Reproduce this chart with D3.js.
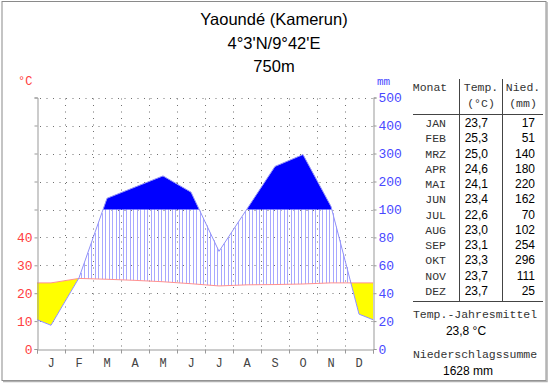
<!DOCTYPE html>
<html>
<head>
<meta charset="utf-8">
<script src="https://cdn.jsdelivr.net/npm/d3@7"></script>
<style>
body { margin: 0; background: #fff; }
</style>
</head>
<body>
<div id="chart"></div>
<script>
// data
var months = ["J", "F", "M", "A", "M", "J", "J", "A", "S", "O", "N", "D"];
var monthNames = ["JAN", "FEB", "MRZ", "APR", "MAI", "JUN", "JUL", "AUG", "SEP", "OKT", "NOV", "DEZ"];
var temps = [23.7, 25.3, 25.0, 24.6, 24.1, 23.4, 22.6, 23.0, 23.1, 23.3, 23.7, 23.7];
var precip = [17, 51, 140, 180, 220, 162, 70, 102, 254, 296, 111, 25];
var tempTicks = [0, 10, 20, 30, 40];
var precipTicks = [0, 20, 40, 60, 80, 100, 200, 300, 400, 500];
var titleLines = ["Yaoundé (Kamerun)", "4°3'N/9°42'E", "750m"];

function init() {

    var w = 550;
    var h = 384;
    var mono = "'Liberation Mono', 'Courier New', monospace";
    var sans = "'Liberation Sans', Arial, sans-serif";

    var svg = d3.select("#chart")
        .append("svg")
        .attr("width", w)
        .attr("height", h);

    // scales
    var x = d3.scaleLinear().domain([0, 12]).range([37, 373]);
    var yT = d3.scaleLinear().domain([0, 50]).range([349, 209.5]);
    var yP = d3.scaleLinear().domain([0, 100, 500]).range([349, 209.5, 97.5]);
    var y100 = yP(100);

    // frame
    svg.append("rect")
        .attr("x", 2).attr("y", 1.5)
        .attr("width", 544).attr("height", 379)
        .attr("fill", "none").attr("stroke", "#8a8a8a");
    svg.append("path")
        .attr("d", "M547,2V381.5H3")
        .attr("fill", "none").attr("stroke", "#b0b0b0").attr("stroke-width", 1.5);

    // title
    svg.selectAll("text.title")
        .data(titleLines)
        .enter()
        .append("text")
        .attr("class", "title")
        .attr("x", 274)
        .attr("y", function (d, i) { return 25 + i * 23.5; })
        .attr("text-anchor", "middle")
        .attr("font-family", sans)
        .attr("font-size", "16.5px")
        .attr("fill", "#000")
        .text(function (d) { return d; });

    // grid
    var grid = svg.append("g")
        .attr("stroke", "#707070")
        .attr("stroke-dasharray", "1,5.5");
    grid.selectAll("line.h")
        .data(precipTicks.slice(1))
        .enter()
        .append("line")
        .attr("x1", x(0) + 3).attr("x2", x(12))
        .attr("y1", function (d) { return Math.round(yP(d)) + 0.5; })
        .attr("y2", function (d) { return Math.round(yP(d)) + 0.5; });
    grid.selectAll("line.v")
        .data(d3.range(1, 12))
        .enter()
        .append("line")
        .attr("x1", function (d) { return Math.round(x(d)) + 0.5; })
        .attr("x2", function (d) { return Math.round(x(d)) + 0.5; })
        .attr("y1", yP(500) + 1).attr("y2", yP(0));

    // curves, wrapped at both ends with the mean of december and january
    var xs = [0].concat(d3.range(12).map(function (i) { return i + 0.5; }), [12]);
    var tEdge = (temps[11] + temps[0]) / 2;
    var pEdge = (precip[11] + precip[0]) / 2;
    var tVals = [tEdge].concat(temps, [tEdge]);
    var pVals = [pEdge].concat(precip, [pEdge]);

    var pts = xs.map(function (d, i) {
        return { x: x(d), t: yT(tVals[i]), p: yP(pVals[i]) };
    });

    var fT = d3.scaleLinear().domain(pts.map(function (d) { return d.x; })).range(pts.map(function (d) { return d.t; }));
    var fP = d3.scaleLinear().domain(pts.map(function (d) { return d.x; })).range(pts.map(function (d) { return d.p; }));

    var defs = svg.append("defs");
    var abovePrecip = pts.map(function (d) { return [d.x, d.p]; });
    abovePrecip.push([x(12), 0], [x(0), 0]);
    defs.append("clipPath").attr("id", "abovePrecip")
        .append("path")
        .attr("d", "M" + abovePrecip.join("L") + "Z");

    // humid season: hatching between temperature and precipitation (capped at 100 mm)
    var hatchX = d3.range(x(0) + 1.75, x(12), 3.5);
    svg.append("g")
        .selectAll("line")
        .data(hatchX.filter(function (hx) { return fP(hx) < fT(hx); }))
        .enter()
        .append("line")
        .attr("x1", function (d) { return Math.round(d) + 0.5; })
        .attr("x2", function (d) { return Math.round(d) + 0.5; })
        .attr("y1", function (d) { return Math.max(fP(d), y100); })
        .attr("y2", function (d) { return fT(d); })
        .attr("stroke", "#a8a8ff")
        .attr("stroke-width", 1);

    // perhumid: solid blue above 100 mm, split into runs where precipitation exceeds 100 mm
    var runs = [];
    var cur = null;
    pts.forEach(function (d, i) {
        var prev = pts[i - 1];
        if (prev && (prev.p < y100) !== (d.p < y100)) {
            var k = (y100 - prev.p) / (d.p - prev.p);
            var cross = { x: prev.x + k * (d.x - prev.x), p: y100 };
            if (cur) { cur.push(cross); runs.push(cur); cur = null; }
            else { cur = [cross]; }
        }
        if (d.p < y100) {
            if (!cur) cur = [];
            cur.push(d);
        }
    });
    if (cur) runs.push(cur);

    var blueArea = d3.area()
        .x(function (d) { return d.x; })
        .y0(y100)
        .y1(function (d) { return d.p; });
    svg.append("g")
        .selectAll("path")
        .data(runs)
        .enter()
        .append("path")
        .attr("d", blueArea)
        .attr("fill", "#0000ff");

    // arid season: yellow where temperature lies above precipitation
    var yellowArea = d3.area()
        .x(function (d) { return d.x; })
        .y0(function (d) { return d.p; })
        .y1(function (d) { return d.t; });
    svg.append("path")
        .datum(pts)
        .attr("d", yellowArea)
        .attr("clip-path", "url(#abovePrecip)")
        .attr("fill", "#ffff00");

    var tLine = d3.line()
        .x(function (d) { return d.x; })
        .y(function (d) { return d.t; });
    var pLine = d3.line()
        .x(function (d) { return d.x; })
        .y(function (d) { return d.p; });

    svg.append("path")
        .datum(pts)
        .attr("d", tLine)
        .attr("fill", "none")
        .attr("stroke", "#ff9090");
    svg.append("path")
        .datum(pts)
        .attr("d", pLine)
        .attr("fill", "none")
        .attr("stroke", "#9090ff");

    // axes
    svg.append("g")
        .attr("transform", "translate(37.5,0)")
        .call(d3.axisLeft(yP).tickValues(precipTicks).tickSize(3).tickFormat(""));
    var leftLabels = svg.append("g")
        .attr("transform", "translate(37.5,0)")
        .call(d3.axisLeft(yT).tickValues(tempTicks).tickSize(0).tickPadding(5));
    leftLabels.select(".domain").remove();
    leftLabels.selectAll("text")
        .attr("font-family", mono).attr("font-size", "13px").attr("fill", "#ff4040");

    var rightAxis = svg.append("g")
        .attr("transform", "translate(373.5,0)")
        .call(d3.axisRight(yP).tickValues(precipTicks).tickSize(3).tickPadding(2));
    rightAxis.selectAll("text")
        .attr("font-family", mono).attr("font-size", "13px").attr("fill", "#4848ff");

    svg.append("g")
        .attr("transform", "translate(0,349.5)")
        .call(d3.axisBottom(x).tickValues(d3.range(0, 13)).tickSize(4).tickFormat(""));

    svg.selectAll(".domain, .tick line")
        .attr("stroke", "#999");

    svg.selectAll("text.month")
        .data(months)
        .enter()
        .append("text")
        .attr("class", "month")
        .attr("x", function (d, i) { return x(i + 0.5); })
        .attr("y", 367)
        .attr("text-anchor", "middle")
        .attr("font-family", mono)
        .attr("font-size", "12px")
        .attr("fill", "#444")
        .text(function (d) { return d; });

    // units
    svg.append("text")
        .attr("x", 18).attr("y", 85)
        .attr("font-family", mono).attr("font-size", "12px")
        .attr("fill", "#ff4040")
        .text("°C");
    svg.append("text")
        .attr("x", 377).attr("y", 85)
        .attr("font-family", mono).attr("font-size", "11px")
        .attr("fill", "#4848ff")
        .text("mm");

    // table
    var tbl = svg.append("g");
    tbl.append("line").attr("x1", 459.5).attr("x2", 459.5).attr("y1", 79).attr("y2", 301).attr("stroke", "#444");
    tbl.append("line").attr("x1", 502.5).attr("x2", 502.5).attr("y1", 79).attr("y2", 301).attr("stroke", "#444");
    tbl.append("line").attr("x1", 413).attr("x2", 543).attr("y1", 114.5).attr("y2", 114.5).attr("stroke", "#444");
    tbl.append("line").attr("x1", 413).attr("x2", 543).attr("y1", 301.5).attr("y2", 301.5).attr("stroke", "#444");

    var head = [
        { t: "Monat", x: 430, y: 91 },
        { t: "Temp.", x: 481, y: 91 },
        { t: "Nied.", x: 523, y: 91 },
        { t: "(°C)", x: 481, y: 107 },
        { t: "(mm)", x: 523, y: 107 }
    ];
    tbl.selectAll("text.head")
        .data(head)
        .enter()
        .append("text")
        .attr("class", "head")
        .attr("x", function (d) { return d.x; })
        .attr("y", function (d) { return d.y; })
        .attr("text-anchor", "middle")
        .attr("font-family", mono).attr("font-size", "11.5px")
        .attr("fill", "#333")
        .text(function (d) { return d.t; });

    var rowY = function (i) { return 127 + i * 15.25; };
    var fmt = function (v) { return d3.format(".1f")(v).replace(".", ","); };

    tbl.selectAll("text.mon")
        .data(monthNames)
        .enter()
        .append("text")
        .attr("class", "mon")
        .attr("x", 446).attr("y", function (d, i) { return rowY(i); })
        .attr("text-anchor", "end")
        .attr("font-family", mono).attr("font-size", "11.5px")
        .attr("fill", "#333")
        .text(function (d) { return d; });
    tbl.selectAll("text.tv")
        .data(temps)
        .enter()
        .append("text")
        .attr("class", "tv")
        .attr("x", 488).attr("y", function (d, i) { return rowY(i); })
        .attr("text-anchor", "end")
        .attr("font-family", sans).attr("font-size", "12px")
        .attr("fill", "#000")
        .text(fmt);
    tbl.selectAll("text.pv")
        .data(precip)
        .enter()
        .append("text")
        .attr("class", "pv")
        .attr("x", 535).attr("y", function (d, i) { return rowY(i); })
        .attr("text-anchor", "end")
        .attr("font-family", sans).attr("font-size", "12px")
        .attr("fill", "#000")
        .text(function (d) { return d; });

    var summary = [
        { t: "Temp.-Jahresmittel", f: mono, y: 318, c: "#333", x: 475 },
        { t: fmt(d3.mean(temps)) + " °C", f: sans, y: 335, c: "#000", x: 466 },
        { t: "Niederschlagssumme", f: mono, y: 358, c: "#333", x: 475 },
        { t: d3.sum(precip) + " mm", f: sans, y: 375, c: "#000", x: 468 }
    ];
    tbl.selectAll("text.sum")
        .data(summary)
        .enter()
        .append("text")
        .attr("class", "sum")
        .attr("x", function (d) { return d.x; })
        .attr("y", function (d) { return d.y; })
        .attr("text-anchor", "middle")
        .attr("font-family", function (d) { return d.f; })
        .attr("font-size", function (d) { return d.f === mono ? "11.5px" : "12px"; })
        .attr("fill", function (d) { return d.c; })
        .text(function (d) { return d.t; });
}

window.onload = init;
</script>
</body>
</html>
